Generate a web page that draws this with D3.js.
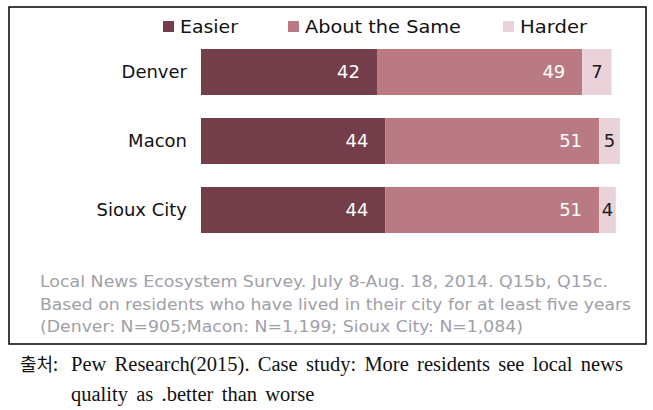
<!DOCTYPE html>
<html>
<head>
<meta charset="utf-8">
<script src="https://cdn.jsdelivr.net/npm/d3@7"></script>
<style>
  html, body { margin: 0; padding: 0; background: #fff; }
  svg { display: block; }
</style>
</head>
<body>
<svg id="chart" width="653" height="410"></svg>
<script>
// ---- Data ----
const cities = ["Denver", "Macon", "Sioux City"];
const seriesNames = ["Easier", "About the Same", "Harder"];
const easier = [42, 44, 44];
const aboutSame = [49, 51, 51];
const harder = [7, 5, 4];
const seriesColors = ["#733d49", "#b97a84", "#e9d3d8"];
const noteLines = [
  "Local News Ecosystem Survey. July 8-Aug. 18, 2014. Q15b, Q15c.",
  "Based on residents who have lived in their city for at least five years",
  "(Denver: N=905;Macon: N=1,199; Sioux City: N=1,084)"
];
const captionLabel = "출처:";
const captionLines = [
  "Pew Research(2015). Case study: More residents see local news",
  "quality as .better than worse"
];

// ---- Build table ----
const rows = cities.map((c, i) => ({ city: c, "Easier": easier[i], "About the Same": aboutSame[i], "Harder": harder[i] }));
const stacked = d3.stack().keys(seriesNames)(rows);

const svg = d3.select("#chart");

// Frame
svg.append("rect")
  .attr("x", 9).attr("y", 7).attr("width", 637).attr("height", 337)
  .attr("fill", "none").attr("stroke", "#000").attr("stroke-width", 1.5);

const x = d3.scaleLinear().domain([0, 100]).range([201, 620]);
const y = d3.scaleBand().domain(cities).range([37.5, 244.5]).paddingInner(1/3).paddingOuter(1/6);
const color = d3.scaleOrdinal().domain(seriesNames).range(seriesColors);

// Bars
const layers = svg.append("g").selectAll("g").data(stacked).join("g")
  .attr("fill", d => color(d.key));
layers.selectAll("rect").data(d => d.map(v => ({ v, key: d.key }))).join("rect")
  .attr("x", d => x(d.v[0]))
  .attr("y", d => y(d.v.data.city))
  .attr("width", d => x(d.v[1]) - x(d.v[0]))
  .attr("height", y.bandwidth());

// Value labels
const labelFont = "'DejaVu Sans', sans-serif";
stacked.forEach(layer => {
  layer.forEach(v => {
    const val = v[1] - v[0];
    const isHarder = layer.key === "Harder";
    svg.append("text")
      .attr("x", isHarder ? (x(v[0]) + x(v[1])) / 2 : x(v[1]) - 17)
      .attr("y", y(v.data.city) + y.bandwidth() / 2)
      .attr("dy", "0.36em")
      .attr("text-anchor", isHarder ? "middle" : "end")
      .attr("font-family", labelFont)
      .attr("font-size", 18)
      .attr("fill", isHarder ? "#1a1a1a" : "#ffffff")
      .text(val);
  });
});

// Category axis labels
const yAxis = d3.axisLeft(y).tickSize(0).tickPadding(0);
const ag = svg.append("g").attr("transform", "translate(187,0)").call(yAxis);
ag.select(".domain").remove();
ag.selectAll("text")
  .attr("font-family", labelFont)
  .attr("font-size", 18)
  .attr("fill", "#111");

// Legend
const legendX = [163, 288, 503];
const legendW = [58, 156, 67];
const lg = svg.append("g");
seriesNames.forEach((s, i) => {
  lg.append("rect").attr("x", legendX[i]).attr("y", 21).attr("width", 11).attr("height", 11)
    .attr("fill", color(s));
  lg.append("text").attr("x", legendX[i] + 17).attr("y", 27).attr("dy", "0.36em")
    .attr("font-family", labelFont).attr("font-size", 17.5).attr("fill", "#111")
    .attr("textLength", legendW[i]).attr("lengthAdjust", "spacingAndGlyphs")
    .text(s);
});

// Notes
const noteEnds = [608, 631, 523];
noteLines.forEach((t, i) => {
  svg.append("text")
    .attr("x", 40).attr("y", 287 + i * 22.5)
    .attr("font-family", "'DejaVu Sans Condensed', 'DejaVu Sans', sans-serif")
    .attr("font-size", 16.5)
    .attr("fill", "#a0a0a6")
    .attr("textLength", noteEnds[i] - 40)
    .attr("lengthAdjust", "spacingAndGlyphs")
    .text(t);
});

// Caption
const capFont = "'Liberation Serif', 'Noto Sans CJK KR', serif";
svg.append("text").attr("x", 20).attr("y", 371)
  .attr("font-family", "'Noto Sans CJK KR', sans-serif").attr("font-size", 18).attr("fill", "#111")
  .text(captionLabel);
const c1 = svg.append("text").attr("x", 71).attr("y", 371)
  .attr("font-family", capFont).attr("font-size", 20.5).attr("fill", "#111")
  .text(captionLines[0]);
const natural = c1.node().getComputedTextLength();
const nSpaces = captionLines[0].split(" ").length - 1;
const ws = Math.max(0, (623 - 71 - natural) / nSpaces);
c1.attr("word-spacing", ws);
svg.append("text").attr("x", 71).attr("y", 401)
  .attr("font-family", capFont).attr("font-size", 20.5).attr("fill", "#111")
  .attr("word-spacing", ws)
  .text(captionLines[1]);
</script>
</body>
</html>
